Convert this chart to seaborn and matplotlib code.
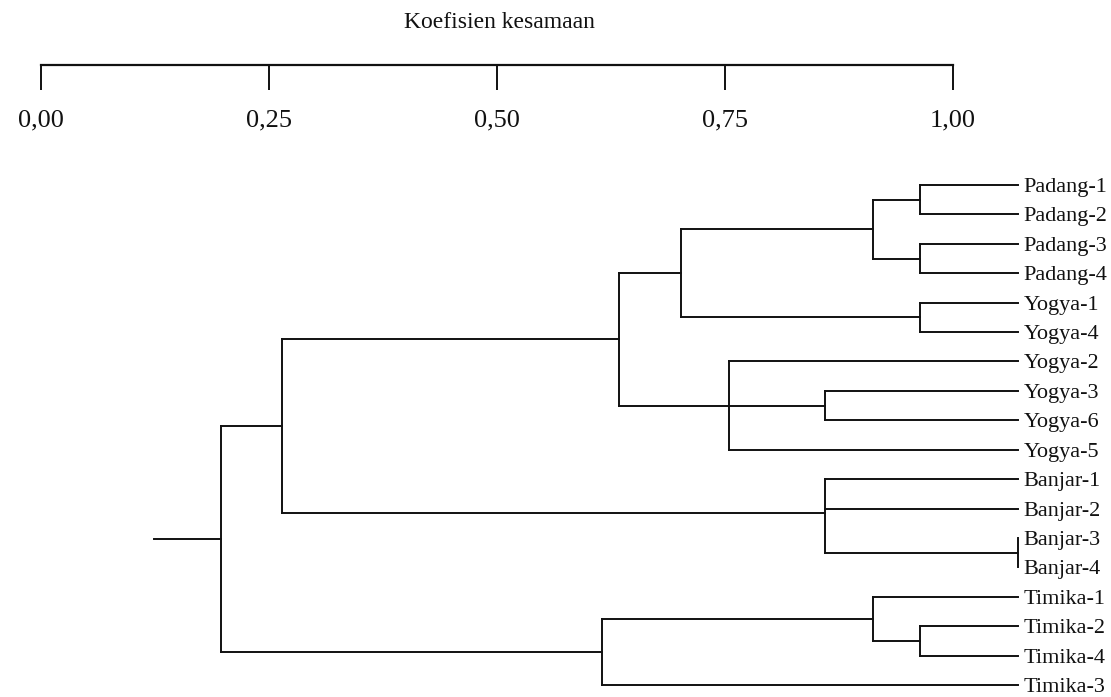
import numpy as np
import pandas as pd
import matplotlib
matplotlib.use("Agg")
import matplotlib.pyplot as plt
import seaborn as sns

# leaves, top to bottom as they appear in the dendrogram
leaf_labels = ["Padang-1", "Padang-2", "Padang-3", "Padang-4",
               "Yogya-1", "Yogya-4", "Yogya-2", "Yogya-3", "Yogya-6", "Yogya-5",
               "Banjar-1", "Banjar-2", "Banjar-3", "Banjar-4",
               "Timika-1", "Timika-2", "Timika-4", "Timika-3"]

# clusters (children top to bottom) and the similarity where they join
cluster_names = ["P12", "P34", "Padang", "Y14", "PadangY14", "Y36", "Yogya2356",
                 "PadangYogya", "B34", "Banjar", "PYB", "T24", "T124", "Timika", "root"]
cluster_children = [
    ["Padang-1", "Padang-2"],
    ["Padang-3", "Padang-4"],
    ["P12", "P34"],
    ["Yogya-1", "Yogya-4"],
    ["Padang", "Y14"],
    ["Yogya-3", "Yogya-6"],
    ["Yogya-2", "Y36", "Yogya-5"],
    ["PadangY14", "Yogya2356"],
    ["Banjar-3", "Banjar-4"],
    ["Banjar-1", "Banjar-2", "B34"],
    ["PadangYogya", "Banjar"],
    ["Timika-2", "Timika-4"],
    ["Timika-1", "T24"],
    ["T124", "Timika-3"],
    ["PYB", "Timika"],
]
cluster_similarity = [0.893, 0.893, 0.841, 0.893, 0.631, 0.788, 0.683,
                      0.563, 1.000, 0.788, 0.193, 0.893, 0.841, 0.544, 0.127]

scale_ticks = [0.0, 0.25, 0.5, 0.75, 1.0]
scale_labels = ["0,00", "0,25", "0,50", "0,75", "1,00"]

W, H = 1111, 697
root_stub_end = 0.053

# positions of every node: leaves at similarity 1, clusters at their join level
xpos = {name: 1.0 for name in leaf_labels}
ypos = {name: i for i, name in enumerate(leaf_labels)}
for name, kids, sim in zip(cluster_names, cluster_children, cluster_similarity):
    xpos[name] = sim
    ypos[name] = np.mean([ypos[k] for k in kids])

rows = []
seg = 0
for name, kids in zip(cluster_names, cluster_children):
    ys = [ypos[k] for k in kids]
    rows += [(seg, xpos[name], min(ys)), (seg, xpos[name], max(ys))]
    seg += 1
    for k in kids:
        rows += [(seg, xpos[k], ypos[k]), (seg, xpos[name], ypos[k])]
        seg += 1
rows += [(seg, xpos["root"], ypos["root"]), (seg, root_stub_end, ypos["root"])]
segments = pd.DataFrame(rows, columns=["segment", "x", "y"])

sns.set_theme(style="white")
plt.rcParams["font.family"] = ["Liberation Serif", "DejaVu Serif"]

fig = plt.figure(figsize=(W / 100, H / 100), dpi=100)

# dendrogram
ax = fig.add_axes([105.5 / W, 1 - 685 / H, 912.5 / W, 500 / H])
sns.lineplot(data=segments, x="x", y="y", units="segment", estimator=None,
             sort=False, color="#111111", linewidth=1.4, ax=ax,
             solid_capstyle="projecting")
for line in ax.lines:
    line.set_clip_on(False)
ax.set_xlim(0, 1)
ax.set_ylim(len(leaf_labels) - 1, 0)
ax.axis("off")

for i, lab in enumerate(leaf_labels):
    ax.annotate(lab, xy=(1.0, i), xytext=(4, 0), textcoords="offset points",
                va="center_baseline", ha="left", fontsize=16, color="#111111",
                annotation_clip=False)

# similarity scale on top
ax_scale = fig.add_axes([40.7 / W, 1 - 65 / H, 912 / W, 0.02])
ax_scale.set_facecolor("none")
for s in ["top", "left", "right"]:
    ax_scale.spines[s].set_visible(False)
ax_scale.spines["bottom"].set_linewidth(1.6)
ax_scale.spines["bottom"].set_color("#111111")
ax_scale.set_xlim(0, 1)
ax_scale.set_xticks(scale_ticks, scale_labels)
ax_scale.set_yticks([])
ax_scale.tick_params(axis="x", bottom=True, direction="out", length=18, width=1.4,
                     pad=14, labelsize=19, colors="#111111")

fig.text(499.5 / W, 1 - 28 / H, "Koefisien kesamaan", ha="center", va="baseline",
         fontsize=17, color="#111111")

fig.savefig("out.png", dpi=100)
